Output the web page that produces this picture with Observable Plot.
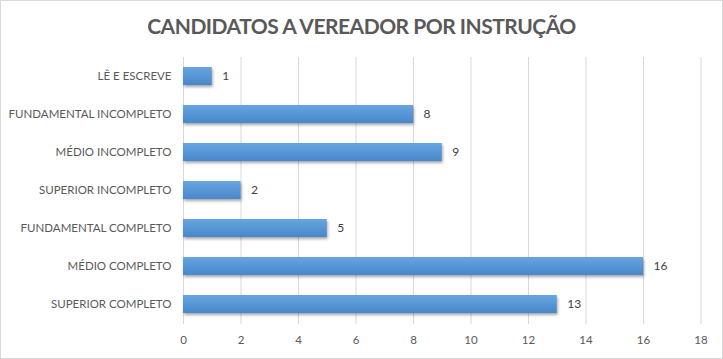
<!DOCTYPE html>
<html>
<head>
<meta charset="utf-8">
<script src="https://cdn.jsdelivr.net/npm/d3@7"></script>
<script src="https://cdn.jsdelivr.net/npm/@observablehq/plot@0.6"></script>
<style>
  body { margin: 0; background: #fff; }
  #wrap { position: relative; width: 721px; height: 357px; border: 1px solid #d9d9d9; background: #fff; overflow: hidden; }
  #title { height: 48px; line-height: 50px; text-align: center; font-family: Lato, "Open Sans", sans-serif; font-weight: bold; font-size: 21px; color: #595959; letter-spacing: -0.5px; }
  svg { display: block; }
  .bar { filter: drop-shadow(1px 2px 1.5px rgba(0,0,0,0.35)); }
</style>
</head>
<body>
<div id="wrap"><div id="title">CANDIDATOS A VEREADOR POR INSTRUÇÃO</div><div id="chart"></div></div>
<script>
const categories = ["LÊ E ESCREVE", "FUNDAMENTAL INCOMPLETO", "MÉDIO INCOMPLETO", "SUPERIOR INCOMPLETO", "FUNDAMENTAL COMPLETO", "MÉDIO COMPLETO", "SUPERIOR COMPLETO"];
const values = [1, 8, 9, 2, 5, 16, 13];
const xTicks = [0, 2, 4, 6, 8, 10, 12, 14, 16, 18];

const data = categories.map((c, i) => ({category: c, value: values[i]}));

const svg = Plot.plot({
  width: 721,
  height: 309,
  marginTop: 8,
  marginBottom: 34,
  marginLeft: 182,
  marginRight: 21.5,
  style: {fontFamily: "Lato, 'Open Sans', sans-serif", fontSize: "11.5px", color: "#595959", background: "transparent"},
  x: {domain: [0, 18], ticks: xTicks, label: null, tickSize: 0, tickPadding: 11},
  y: {domain: categories, label: null, tickSize: 0, tickPadding: 12, paddingInner: 0.52, paddingOuter: 0.26},
  marks: [
    Plot.ruleX(xTicks, {stroke: "#d9d9d9", strokeWidth: 1}),
    Plot.barX(data, {x: "value", y: "category", fill: "url(#barGrad)", className: "bar"}),
    Plot.text(data, {x: "value", y: "category", text: d => String(d.value), dx: 10, textAnchor: "start", fill: "#404040", fontSize: 12})
  ]
});

const defs = d3.select(svg).insert("defs", ":first-child");
const g = defs.append("linearGradient").attr("id", "barGrad").attr("x1", 0).attr("y1", 0).attr("x2", 0).attr("y2", 1);
g.append("stop").attr("offset", "0%").attr("stop-color", "#68a5e0");
g.append("stop").attr("offset", "100%").attr("stop-color", "#4787cb");

document.getElementById("chart").appendChild(svg);
</script>
</body>
</html>
